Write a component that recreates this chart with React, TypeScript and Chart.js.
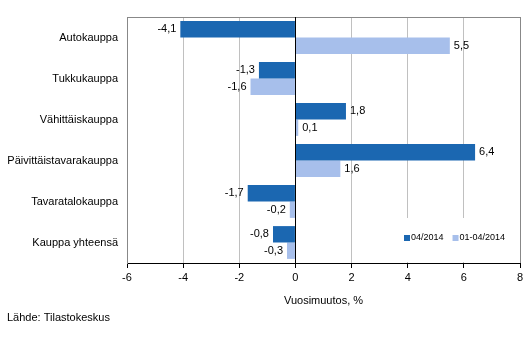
import React, { useEffect, useRef } from 'react';
import { Chart, registerables } from 'chart.js';

Chart.register(...registerables);

const categories = [
  'Autokauppa',
  'Tukkukauppa',
  'Vähittäiskauppa',
  'Päivittäistavarakauppa',
  'Tavaratalokauppa',
  'Kauppa yhteensä',
];
const seriesNames = ['04/2014', '01-04/2014'];
const monthValues = [-4.1, -1.3, 1.8, 6.4, -1.7, -0.8];
const periodValues = [5.5, -1.6, 0.1, 1.6, -0.2, -0.3];
const xMin = -6;
const xMax = 8;
const xStep = 2;
const axisTitle = 'Vuosimuutos, %';
const sourceText = 'Lähde: Tilastokeskus';

const DARK = '#1b67b1';
const LIGHT = '#a7bfeb';
const FONT = '"Liberation Sans", Arial, sans-serif';

const fmt = (v: number) => v.toFixed(1).replace('.', ',');

const extrasPlugin = {
  id: 'extras',
  afterDatasetsDraw(chart: any) {
    const ctx = chart.ctx;
    const ca = chart.chartArea;
    const xs = chart.scales.x;
    ctx.save();
    // top border
    ctx.strokeStyle = '#888';
    ctx.lineWidth = 1;
    ctx.beginPath();
    ctx.moveTo(ca.left, Math.round(ca.top) + 0.5);
    ctx.lineTo(ca.right, Math.round(ca.top) + 0.5);
    ctx.stroke();
    // zero line over bars
    const x0 = Math.round(xs.getPixelForValue(0)) + 0.5;
    ctx.strokeStyle = '#000';
    ctx.beginPath();
    ctx.moveTo(x0, ca.top);
    ctx.lineTo(x0, ca.bottom);
    ctx.stroke();
    // data labels
    ctx.font = `11px ${FONT}`;
    ctx.fillStyle = '#000';
    ctx.textBaseline = 'middle';
    chart.data.datasets.forEach((ds: any, di: number) => {
      const meta = chart.getDatasetMeta(di);
      meta.data.forEach((el: any, i: number) => {
        const v = ds.data[i];
        const txt = fmt(v);
        if (v >= 0) {
          ctx.textAlign = 'left';
          ctx.fillText(txt, el.x + 4, el.y);
        } else {
          ctx.textAlign = 'right';
          ctx.fillText(txt, el.x - 4, el.y);
        }
      });
    });
    // legend box
    const bx = ca.right - 120;
    const by = ca.bottom - 45;
    ctx.fillStyle = '#fff';
    ctx.fillRect(bx, by, 119, 44);
    ctx.font = `9px ${FONT}`;
    ctx.textAlign = 'left';
    ctx.textBaseline = 'middle';
    let lx = bx + 4;
    const ly = ca.bottom - 25;
    const colors = [DARK, LIGHT];
    seriesNames.forEach((name, i) => {
      ctx.fillStyle = colors[i];
      ctx.fillRect(lx, ly - 3, 6, 6);
      ctx.fillStyle = '#000';
      ctx.fillText(name, lx + 7, ly);
      lx += 7 + ctx.measureText(name).width + 9;
    });
    ctx.restore();
  },
  afterDraw(chart: any) {
    const ctx = chart.ctx;
    const ca = chart.chartArea;
    ctx.save();
    ctx.font = `11px ${FONT}`;
    ctx.fillStyle = '#000';
    ctx.textBaseline = 'middle';
    ctx.textAlign = 'center';
    ctx.fillText(axisTitle, (ca.left + ca.right) / 2, 301);
    ctx.textAlign = 'left';
    ctx.fillText(sourceText, 7, 318);
    ctx.restore();
  },
};

export default function App() {
  const ref = useRef<HTMLCanvasElement>(null);
  useEffect(() => {
    document.body.style.margin = '0';
    if (!ref.current) return;
    Chart.defaults.font.family = FONT;
    Chart.defaults.font.size = 11;
    Chart.defaults.color = '#000';
    const chart = new Chart(ref.current, {
      type: 'bar',
      data: {
        labels: categories,
        datasets: [
          {
            label: seriesNames[0],
            data: monthValues,
            backgroundColor: DARK,
            categoryPercentage: 0.8,
            barPercentage: 1.0,
          },
          {
            label: seriesNames[1],
            data: periodValues,
            backgroundColor: LIGHT,
            categoryPercentage: 0.8,
            barPercentage: 1.0,
          },
        ],
      },
      options: {
        indexAxis: 'y',
        responsive: false,
        animation: false,
        layout: { padding: { left: 0, top: 17, right: 12, bottom: 0 } },
        plugins: {
          legend: { display: false },
          tooltip: { enabled: false },
        },
        scales: {
          x: {
            min: xMin,
            max: xMax,
            ticks: {
              stepSize: xStep,
              padding: 3,
              font: { size: 11 },
              color: '#000',
              callback: (v: any) => String(v),
            },
            grid: {
              color: (c: any) => {
                const v = c.tick ? c.tick.value : null;
                if (v === 0) return '#000';
                if (v === xMin || v === xMax) return '#888';
                return '#c0c0c0';
              },
              tickColor: '#000',
              tickLength: 5,
              drawTicks: true,
            },
            border: { color: '#000', width: 1 },
            afterFit: (axis: any) => {
              axis.height = 95;
            },
          },
          y: {
            ticks: { padding: 9, font: { size: 11 }, color: '#000' },
            grid: { display: false, drawTicks: false },
            border: { color: '#888', width: 1 },
            afterFit: (axis: any) => {
              axis.width = 127;
            },
          },
        },
      },
      plugins: [extrasPlugin],
    });
    return () => chart.destroy();
  }, []);
  return <canvas ref={ref} width={532} height={358} />;
}
